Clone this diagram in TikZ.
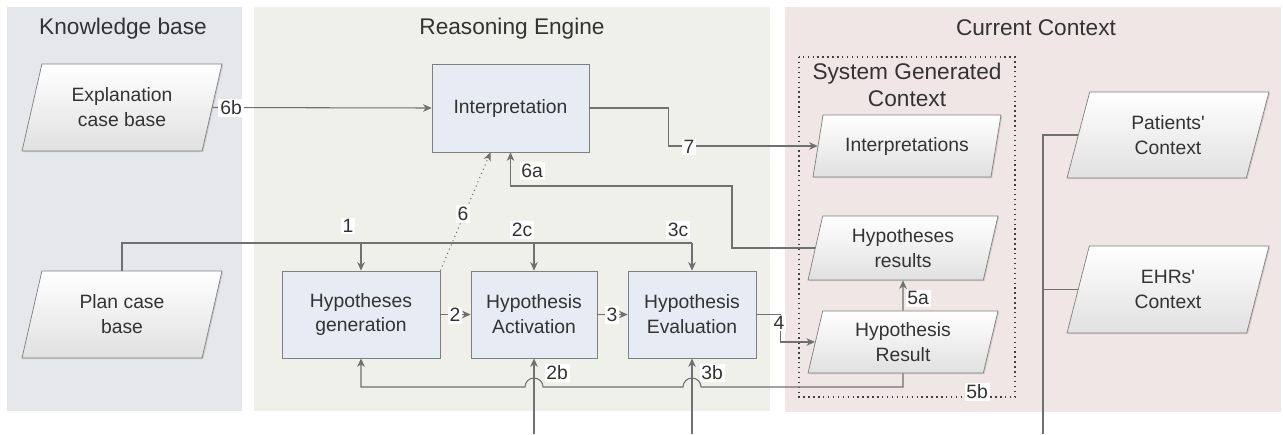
\documentclass[tikz,border=0pt]{standalone}
\usepackage{fontspec}
\setmainfont{Liberation Sans}
\usetikzlibrary{shapes.geometric,arrows.meta,shadows}

\definecolor{kbgray}{HTML}{E6E7EB}
\definecolor{regreen}{HTML}{EEF0E9}
\definecolor{ccpink}{HTML}{F1E6E6}
\definecolor{procblue}{HTML}{E7EBF3}
\definecolor{edgegray}{HTML}{7F7F7F}
\definecolor{linegray}{HTML}{707070}
\definecolor{txtgray}{HTML}{333333}

\tikzset{
  body/.style={font=\fontsize{11pt}{14.2pt}\selectfont, text=txtgray},
  title/.style={font=\fontsize{12.9pt}{15pt}\selectfont, text=txtgray, align=center},
  boxshadow/.style={drop shadow={shadow xshift=0.7pt, shadow yshift=-0.7pt, opacity=0.25}},
  proc/.style={body, draw=edgegray, fill=procblue, align=center, minimum height=1.74cm, boxshadow},
  data/.style 2 args={body, trapezium, trapezium left angle=#1, trapezium right angle=#2,
    trapezium stretches body, draw=edgegray, top color=white, bottom color=black!12,
    align=center, inner sep=1pt, boxshadow},
  flow/.style={draw=linegray, line width=0.6pt, -{Stealth[length=1.7mm, width=1.5mm, inset=0.5mm]}},
  link/.style={draw=linegray, line width=0.6pt},
  lbl/.style={body, fill=white, inner sep=1pt},
}

\begin{document}
\begin{tikzpicture}[x=0.02cm, y=-0.02cm]
            \useasboundingbox (0,0) rectangle (1283,434);
            % panels
            \fill[kbgray] (7,7) rectangle (242,411);
            \fill[regreen] (254,7) rectangle (770,411);
            \fill[ccpink] (785,7) rectangle (1281,412);
            \draw[black!75, line width=0.8pt, dash pattern=on 0.8pt off 2pt] (799,57) rectangle (1015,397);

            \draw (123,29) node[title] (kbtitle) {Knowledge base};
            \draw (512,29) node[title] (retitle) {Reasoning Engine};
            \draw (1036,28) node[title] (cctitle) {Current Context};
            \draw (907,85) node[title] (sgctitle) {System Generated\\Context};

            \draw (122,107.5) node[data={65}{115}, minimum width=4cm, minimum height=1.74cm] (expl) {Explanation\\case base};
            \draw (122,314.5) node[data={65}{115}, minimum width=4cm, minimum height=1.74cm] (plan) {Plan case\\base};
            \draw (510.5,108) node[proc, minimum width=3.14cm, minimum height=1.76cm] (interp) {Interpretation};
            \draw (361,314.5) node[proc, minimum width=3.16cm] (gen) {Hypotheses\\generation};
            \draw (534,314.5) node[proc, minimum width=2.52cm] (act) {Hypothesis\\Activation};
            \draw (692,314.5) node[proc, minimum width=2.56cm] (eval) {Hypothesis\\Evaluation};
            \draw (907,146) node[data={65}{115}, minimum width=3.76cm, minimum height=1.24cm] (interps) {Interpretations};
            \draw (903,248) node[data={71}{109}, minimum width=3.8cm, minimum height=1.28cm] (hypres) {Hypotheses\\results};
            \draw (903,342) node[data={71}{109}, minimum width=3.8cm, minimum height=1.24cm] (hypresult) {Hypothesis\\Result};
            \draw (1168,135) node[data={62}{118}, minimum width=4.04cm, minimum height=1.72cm] (patients) {Patients\textquotesingle\\Context};
            \draw (1168,289.5) node[data={62}{118}, minimum width=4.04cm, minimum height=1.74cm] (ehrs) {EHRs\textquotesingle\\Context};

            \coordinate (bus) at (0,243);
            \coordinate (hop) at (0,387);
            \coordinate (bot) at (0,434);
            \coordinate (c6a) at (732,186);
            \coordinate (ctx) at (1043,434);

            \draw[flow] (expl.east) -- (interp.west);
            \draw[flow] (interp.east) -- ++(79,0) |- (interps.west);
            \draw[flow] (hypres.west) -| (c6a) -| (interp.south);
            \draw[flow, dotted] (gen.north east) -- ([xshift=-4mm]interp.south);
            \draw[link] (plan.north) |- (eval.north |- bus);
            \draw[flow] (gen.north |- bus) -- (gen.north);
            \draw[flow] (act.north |- bus) -- (act.north);
            \draw[flow] (eval.north |- bus) -- (eval.north);
            \draw[flow] (gen) -- (act);
            \draw[flow] (act) -- (eval);
            \draw[flow] (eval.east) -- ++(24,0) |- (hypresult.west);
            \draw[flow] (hypresult.north) -- (hypres.south);
            \draw[flow] (hypresult.south) |- ([xshift=1.8mm]eval.south |- hop)
                arc[start angle=0, end angle=180, radius=1.8mm]
                -- ([xshift=1.8mm]act.south |- hop)
                arc[start angle=0, end angle=180, radius=1.8mm] -| (gen.south);
            \draw[flow] (act.south |- bot) -- (act.south);
            \draw[flow] (eval.south |- bot) -- (eval.south);
            \draw[link] (ctx) |- (patients.west);
            \draw[link] (ehrs.west) -- (ehrs.west -| ctx);

            % labels
            \draw (231,108) node[lbl] (l6b) {6b};
            \draw (689,147) node[lbl] (l7) {7};
            \draw (532,171) node[lbl] (l6a) {6a};
            \draw (463,214) node[lbl] (l6) {6};
            \draw (348,226) node[lbl] (l1) {1};
            \draw (522,230) node[lbl] (l2c) {2c};
            \draw (678,230) node[lbl] (l3c) {3c};
            \draw (455,315) node[lbl] (l2) {2};
            \draw (612,315) node[lbl] (l3) {3};
            \draw (779,323) node[lbl] (l4) {4};
            \draw (918,298) node[lbl] (l5a) {5a};
            \draw (557,373) node[lbl] (l2b) {2b};
            \draw (712,373) node[lbl] (l3b) {3b};
            \draw (977,392) node[lbl] (l5b) {5b};
        \end{tikzpicture}
\end{document}
